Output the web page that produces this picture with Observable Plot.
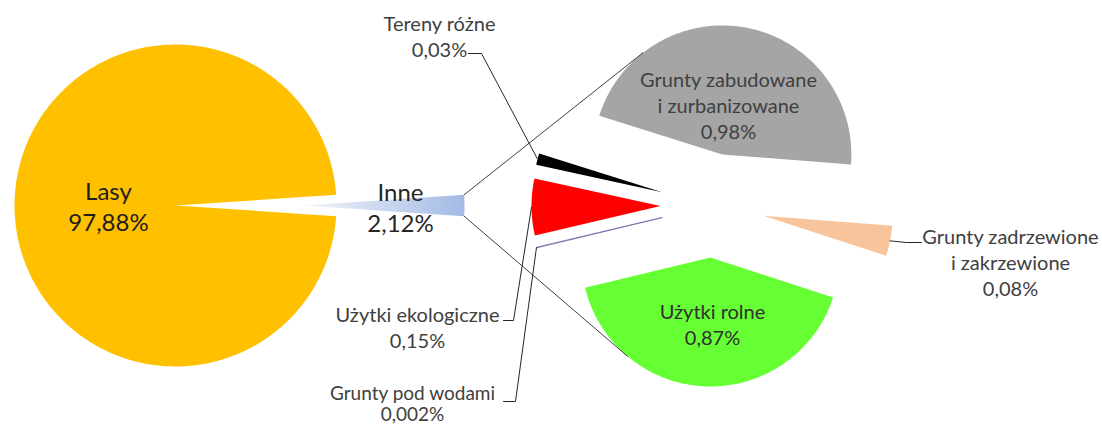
<!DOCTYPE html>
<html><head><meta charset="utf-8">
<script src="https://cdn.jsdelivr.net/npm/d3@7"></script>
<script src="https://cdn.jsdelivr.net/npm/@observablehq/plot@0.6"></script>
<style>html,body{margin:0;padding:0;background:#fff} svg{display:block}</style>
</head><body><div id="chart"></div>
<script>
// ---------- data ----------
const primaryLabels = ["Lasy", "Inne"];
const primaryValues = [97.88, 2.12];
const primaryPct = ["97,88%", "2,12%"];

const secondaryLabels = ["Grunty zabudowane\ni zurbanizowane", "Grunty zadrzewione\ni zakrzewione", "Użytki rolne", "Grunty pod wodami", "Użytki ekologiczne", "Tereny różne"];
const secondaryValues = [0.98, 0.08, 0.87, 0.002, 0.15, 0.03];
const secondaryPct = ["0,98%", "0,08%", "0,87%", "0,002%", "0,15%", "0,03%"];

// ---------- style ----------
const colors = {
  "Lasy": "#FFC000",
  "Inne": "url(#inneGrad)",
  "Grunty zabudowane\ni zurbanizowane": "#A5A5A5",
  "Grunty zadrzewione\ni zakrzewione": "#F8C49C",
  "Użytki rolne": "#66FF33",
  "Grunty pod wodami": "#FFFFFF",
  "Użytki ekologiczne": "#FF0000",
  "Tereny różne": "#000000"
};
const W = 1102, H = 427;
const FONT = "Lato, 'Open Sans', sans-serif";
const P = {cx: 175, cy: 205, r: 161, explode: 128};
const S = {cx: 712, cy: 205, r: 129, explode: 52, start: 197.4};

const rad = d => d * Math.PI / 180;
function wedge(cx, cy, r, a0, a1, name) {
  const pts = [{x: cx, y: cy, name}];
  const n = Math.max(2, Math.ceil(Math.abs(a1 - a0) / 1.5));
  for (let i = 0; i <= n; i++) {
    const a = rad(a0 + (a1 - a0) * i / n);
    pts.push({x: cx + r * Math.cos(a), y: cy + r * Math.sin(a), name});
  }
  pts.push({x: cx, y: cy, name});
  return pts;
}

// primary pie: "Inne" centred on angle 0, exploded to the right
const pTotal = d3.sum(primaryValues);
const inneSpan = primaryValues[1] / pTotal * 360;
const primary = [];
primary.push({name: primaryLabels[0], pct: primaryPct[0], a0: inneSpan / 2, a1: 360 - inneSpan / 2, cx: P.cx, cy: P.cy});
primary.push({name: primaryLabels[1], pct: primaryPct[1], a0: -inneSpan / 2, a1: inneSpan / 2, cx: P.cx + P.explode, cy: P.cy});

// secondary pie: every slice exploded along its bisector
const sTotal = d3.sum(secondaryValues);
let acc = S.start;
const secondary = secondaryLabels.map((name, i) => {
  const span = secondaryValues[i] / sTotal * 360;
  const a0 = acc, a1 = acc + span; acc = a1;
  const mid = (a0 + a1) / 2;
  const cx = S.cx + S.explode * Math.cos(rad(mid));
  const cy = S.cy + S.explode * Math.sin(rad(mid));
  return {name, pct: secondaryPct[i], a0, a1, mid, cx, cy,
    outer: {x: cx + S.r * Math.cos(rad(mid)), y: cy + S.r * Math.sin(rad(mid))}};
});
const byName = Object.fromEntries(secondary.map(d => [d.name, d]));

const marks = [];
for (const d of primary) {
  marks.push(Plot.line(wedge(d.cx, d.cy, P.r, d.a0, d.a1, d.name), {x: "x", y: "y", fill: colors[d.name], stroke: "none"}));
}
for (const d of secondary) {
  const isWater = d.name === "Grunty pod wodami";
  marks.push(Plot.line(wedge(d.cx, d.cy, S.r, d.a0, d.a1, d.name), {
    x: "x", y: "y", fill: colors[d.name],
    stroke: isWater ? "#7468a8" : "none", strokeWidth: 0.8
  }));
}

// connector lines from the exploded "Inne" wedge to the secondary pie
const inne = primary[1];
const corner = s => ({x: inne.cx + P.r * Math.cos(rad(s * inneSpan / 2)), y: inne.cy + P.r * Math.sin(rad(s * inneSpan / 2))});
const gray = secondary[0], green = secondary[2];
const onArc = (d, a) => ({x: d.cx + S.r * Math.cos(rad(a)), y: d.cy + S.r * Math.sin(rad(a))});
const connectors = [
  [{...corner(-1), k: "top"}, {...onArc(gray, 232), k: "top"}],
  [{...corner(1), k: "bot"}, {...onArc(green, 130), k: "bot"}]
].flat();
marks.push(Plot.line(connectors, {x: "x", y: "y", z: "k", stroke: "#404040", strokeWidth: 1}));

// leader lines
const leaders = [
  {name: "Tereny różne", pts: [{x: 468, y: 53}, {x: 481, y: 53}]},
  {name: "Użytki ekologiczne", pts: [{x: 503, y: 320}, {x: 513, y: 320}]},
  {name: "Grunty pod wodami", pts: [{x: 503, y: 401}, {x: 515, y: 401}]},
  {name: "Grunty zadrzewione\ni zakrzewione", pts: [{x: 921, y: 242}, {x: 906, y: 242}]}
];
const leaderPts = leaders.flatMap(l => [...l.pts, byName[l.name].outer].map(p => ({...p, k: l.name})));
marks.push(Plot.line(leaderPts, {x: "x", y: "y", z: "k", stroke: "#262626", strokeWidth: 1}));

// labels
const labelPos = {
  "Lasy": {x: 108, y: 205, size: 24, color: "#1e1e1e", lh: 1.3},
  "Inne": {x: 400, y: 206, size: 24, color: "#262626", lh: 1.3},
  "Grunty zabudowane\ni zurbanizowane": {x: 728, y: 104, size: 20, color: "#404040", lh: 1.3},
  "Grunty zadrzewione\ni zakrzewione": {x: 1010, y: 261, size: 20, color: "#404040", lh: 1.3},
  "Użytki rolne": {x: 712, y: 323, size: 20, color: "#303030", lh: 1.3},
  "Grunty pod wodami": {x: 412, y: 403, size: 19, color: "#404040", lh: 1.15},
  "Użytki ekologiczne": {x: 417, y: 326, size: 20, color: "#404040", lh: 1.3},
  "Tereny różne": {x: 439, y: 35, size: 20, color: "#404040", lh: 1.3}
};
const labels = [...primary, ...secondary].map(d => ({...labelPos[d.name], text: d.name + "\n" + d.pct}));
for (const l of labels) {
  marks.push(Plot.text([l], {x: "x", y: "y", text: "text", fill: l.color, fontSize: l.size,
    lineHeight: l.lh, textAnchor: "middle", lineAnchor: "middle", fontFamily: FONT}));
}

const chart = Plot.plot({
  width: W, height: H, margin: 0,
  x: {domain: [0, W], range: [0, W], axis: null},
  y: {domain: [0, H], range: [0, H], axis: null},
  style: {background: "#fff", fontFamily: FONT},
  marks
});
// gradient for the "Inne" wedge
const defs = d3.select(chart).insert("defs", ":first-child");
const g = defs.append("linearGradient").attr("id", "inneGrad").attr("gradientUnits", "userSpaceOnUse")
  .attr("x1", inne.cx).attr("y1", 0).attr("x2", inne.cx + P.r).attr("y2", 0);
g.append("stop").attr("offset", "0").attr("stop-color", "#f2f5fb");
g.append("stop").attr("offset", "1").attr("stop-color", "#a3bae5");
document.getElementById("chart").appendChild(chart);
</script>
</body></html>
